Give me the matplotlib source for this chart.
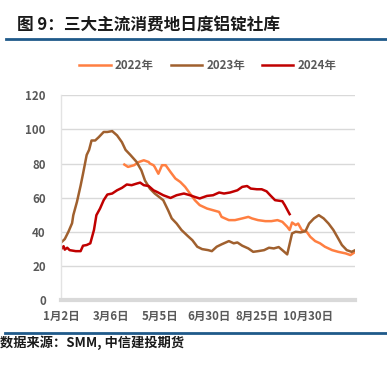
import matplotlib
matplotlib.use("Agg")
import matplotlib.pyplot as plt
from matplotlib.lines import Line2D

plt.rcParams['font.family'] = ['Noto Sans CJK SC', 'DejaVu Sans']

# 横轴为交易日序号, 标签取自原图
tick_pos = [0, 41, 81, 122, 161, 203]
tick_labels = ["1月2日", "3月6日", "5月5日", "6月30日", "8月25日", "10月30日"]

# 2022年 (万吨)
x_2022 = [52, 55, 60, 64, 68, 72, 73, 76, 77, 80, 83, 86, 90, 94, 98, 102, 106, 110,
          114, 120, 125, 130, 132, 138, 143, 149, 154, 157, 162, 168, 173, 178, 182,
          186, 188, 190, 193, 195, 198, 202, 205, 209, 213, 217, 223, 228, 234, 238, 242]
y_2022 = [79.4, 78, 79, 80.9, 81.9, 80.9, 80, 79, 78, 74, 79, 79, 75, 71.2, 69.2, 66.3,
          62.4, 58.5, 55.6, 53.6, 52.6, 51.6, 48.7, 46.8, 46.8, 47.8, 48.7, 47.8, 46.8,
          46.2, 46.2, 46.8, 45.8, 42.9, 41, 45.4, 43.9, 44.8, 41, 40, 37, 34.5, 33.2,
          31.2, 29.2, 28.2, 27.3, 26.3, 28.2]

# 2023年
x_2023 = [0, 3, 6, 9, 10, 13, 16, 18, 21, 23, 25, 28, 31, 35, 38, 42, 46, 50, 53, 57,
          62, 66, 69, 73, 77, 84, 88, 91, 95, 99, 104, 108, 112, 116, 121, 124, 128,
          132, 138, 142, 145, 149, 154, 156, 158, 162, 167, 171, 175, 179, 182, 186,
          190, 193, 197, 201, 204, 208, 212, 216, 220, 224, 228, 231, 235, 239, 242]
y_2023 = [33.7, 35.7, 40, 45, 49.7, 57.5, 67, 74, 85, 88, 93.5, 93.5, 95.5, 98.5, 98.5,
          99, 96.5, 92.5, 88, 85, 81, 76, 70, 65.3, 62.4, 58.5, 52.6, 47.8, 44.8, 41,
          37.6, 35, 31.2, 29.8, 29.2, 28.6, 31.2, 32.6, 34.5, 33.2, 33.7, 31.8, 30.2,
          29.2, 28.2, 28.6, 29.2, 30.6, 30.2, 31, 29.2, 26.7, 39, 40, 39.6, 40.3, 44.8,
          47.8, 49.7, 47.8, 44.8, 41, 36, 32.2, 29.2, 28.2, 29.2]

# 2024年
x_2024 = [0, 2, 3, 5, 7, 12, 16, 18, 21, 24, 27, 29, 32, 35, 38, 42, 46, 50, 54, 58,
          62, 65, 68, 72, 76, 79, 84, 90, 95, 101, 106, 110, 114, 120, 125, 130, 134,
          139, 145, 149, 153, 156, 161, 165, 169, 172, 176, 182, 184, 187, 188]
y_2024 = [29.8, 31.5, 29.5, 30.6, 29.2, 28.6, 28.6, 31.8, 32.2, 33.2, 41, 49.7, 53.6,
          58.5, 61.8, 62.4, 64.3, 65.7, 67.7, 67.3, 68.2, 68.8, 67.3, 66.8, 64.3, 63.3,
          61.4, 59.8, 61.4, 62.4, 61.4, 60.4, 59.5, 61, 61.4, 63, 62.4, 63, 64.3, 66.3,
          66.8, 65.3, 64.9, 64.9, 63.7, 61.4, 58.5, 57.9, 55.6, 51.6, 50.3]

c22, c23, c24 = "#FF7F41", "#A0602E", "#C00000"
gray = "#595959"

fig = plt.figure(figsize=(3.87, 3.68), dpi=100)
ax = fig.add_axes([0.158, 0.185, 0.76, 0.556])

ax.plot(x_2022, y_2022, color=c22, lw=1.8, label="2022年")
ax.plot(x_2023, y_2023, color=c23, lw=1.8, label="2023年")
ax.plot(x_2024, y_2024, color=c24, lw=1.8, label="2024年")

ax.set_xlim(0, 242)
ax.set_ylim(0, 120)
ax.set_yticks(range(0, 121, 20))
ax.set_xticks(tick_pos)
ax.set_xticklabels(tick_labels)
ax.grid(axis="y", color="#D9D9D9", lw=1)
ax.set_axisbelow(True)
for s in ["top", "right"]:
    ax.spines[s].set_visible(False)
ax.spines["left"].set_color("#E3E3E3")
ax.spines["left"].set_linewidth(1)
ax.spines["bottom"].set_color("#D9D9D9")
ax.spines["bottom"].set_linewidth(3)
ax.tick_params(length=0, labelsize=8.3, labelcolor=gray)
ax.tick_params(axis="y", pad=11)
ax.tick_params(axis="x", pad=7)
for t in ax.get_xticklabels() + ax.get_yticklabels():
    t.set_fontweight("bold")

fig.legend(loc="center", bbox_to_anchor=(0.537, 0.821), ncol=3, frameon=False,
           handlelength=2.75, handletextpad=0.35, columnspacing=1.45,
           prop={"size": 8.3, "weight": "bold"}, labelcolor=gray)

# 标题与分隔线
fig.text(0.043, 0.93, "图 9：三大主流消费地日度铝锭社库", fontsize=12,
         fontweight="bold", color="#1A1A1A", va="center")
fig.add_artist(Line2D([0.015, 1.0], [0.893, 0.893], color="#1F5A8A", lw=2))
fig.add_artist(Line2D([0.013, 1.0], [0.096, 0.096], color="#1F5A8A", lw=2))
fig.text(0.0, 0.068, "数据来源：SMM, 中信建投期货", fontsize=9.5, fontweight="bold",
         style="italic", color="#1A1A1A", va="center")

fig.savefig("out.png", dpi=100)
